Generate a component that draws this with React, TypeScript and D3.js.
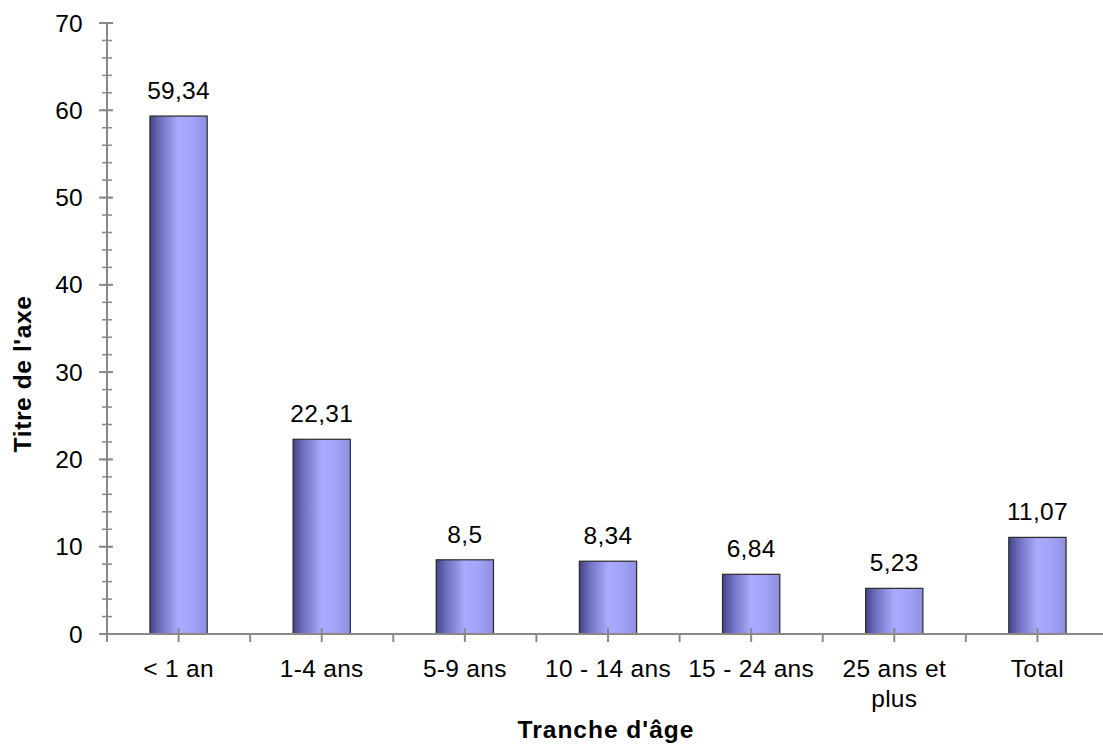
import React from "react";
import * as d3 from "d3";

const categories = ["< 1 an", "1-4 ans", "5-9 ans", "10 - 14 ans", "15 - 24 ans", "25 ans et plus", "Total"];
const categoryLines = [["< 1 an"], ["1-4 ans"], ["5-9 ans"], ["10 - 14 ans"], ["15 - 24 ans"], ["25 ans et", "plus"], ["Total"]];
const values = [59.34, 22.31, 8.5, 8.34, 6.84, 5.23, 11.07];
const valueLabels = ["59,34", "22,31", "8,5", "8,34", "6,84", "5,23", "11,07"];
const yTicks = [0, 10, 20, 30, 40, 50, 60, 70];
const yMinorTicks = d3.range(0, 71, 2);

const W = 1103, H = 747;
const left = 107, right = 1109, top = 23, bottom = 634;
const font = "Liberation Sans, Arial, sans-serif";

export default function App() {
  const x = d3.scaleBand<string>().domain(categories).range([left, right]).paddingInner(0).paddingOuter(0);
  const y = d3.scaleLinear().domain([0, 70]).range([bottom, top]);
  const bw = x.bandwidth() * 0.4;
  const axisColor = "#898989";
  const fs = 24.5;
  return (
    <svg width={W} height={H} style={{ position: "absolute", left: 0, top: 0, background: "#fff" }} fontFamily={font}>
      <defs>
        <linearGradient id="barGrad" x1="0" x2="1" y1="0" y2="0">
          <stop offset="0" stopColor="#45458a" />
          <stop offset="0.2" stopColor="#7474c4" />
          <stop offset="0.5" stopColor="#aaaaff" />
          <stop offset="0.75" stopColor="#a2a2f6" />
          <stop offset="1" stopColor="#8f8fe0" />
        </linearGradient>
      </defs>
      {categories.map((c, i) => {
        const cx = x(c)! + x.bandwidth() / 2;
        return (
          <g key={c}>
            <rect x={cx - bw / 2} y={y(values[i])} width={bw} height={bottom - y(values[i])} fill="url(#barGrad)" stroke="#2a2a2a" strokeWidth={1.2} />
            <text x={cx} y={y(values[i]) - 17} textAnchor="middle" fontSize={fs} letterSpacing={0.3} fill="#000">{valueLabels[i]}</text>
          </g>
        );
      })}
      {/* y axis */}
      <line x1={left} x2={left} y1={top} y2={bottom} stroke={axisColor} strokeWidth={2} />
      {yMinorTicks.map((t) => (
        <line key={"m" + t} x1={left - 5} x2={left + 5} y1={y(t)} y2={y(t)} stroke={axisColor} strokeWidth={1.5} />
      ))}
      {yTicks.map((t) => (
        <g key={t}>
          <line x1={left - 8} x2={left + 6} y1={y(t)} y2={y(t)} stroke={axisColor} strokeWidth={2} />
          <text x={left - 24} y={y(t) + 8.5} textAnchor="end" fontSize={fs} letterSpacing={0.3} fill="#000">{t}</text>
        </g>
      ))}
      {/* x axis */}
      <line x1={left} x2={W} y1={bottom} y2={bottom} stroke={axisColor} strokeWidth={2} />
      {categories.map((c, i) => {
        const cx = x(c)! + x.bandwidth() / 2;
        return (
          <g key={"xt" + c}>
            <line x1={x(c)!} x2={x(c)!} y1={bottom} y2={bottom + 8} stroke={axisColor} strokeWidth={2} />
            <line x1={cx} x2={cx} y1={bottom - 6} y2={bottom + 8} stroke={axisColor} strokeWidth={2} />
            {categoryLines[i].map((ln, j) => (
              <text key={j} x={cx} y={677 + j * 30} textAnchor="middle" fontSize={fs} letterSpacing={0.3} fill="#000">{ln}</text>
            ))}
          </g>
        );
      })}
      <text x={606} y={738} textAnchor="middle" fontSize={fs} fontWeight="bold" letterSpacing={1} fill="#000">Tranche d'âge</text>
      <text transform={`translate(31, 374) rotate(-90)`} textAnchor="middle" fontSize={fs} fontWeight="bold" letterSpacing={0.6} fill="#000">Titre de l'axe</text>
    </svg>
  );
}
